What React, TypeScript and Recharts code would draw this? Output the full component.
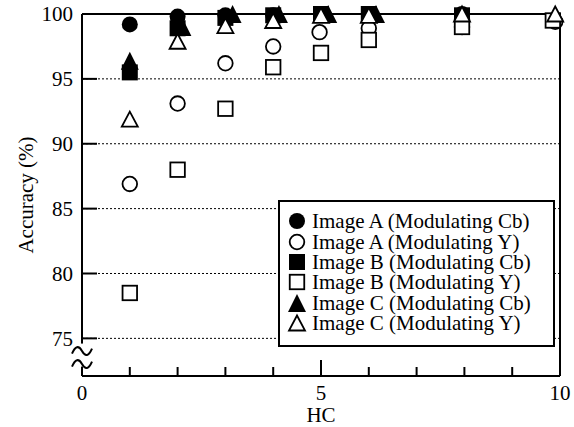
import {
    ScatterChart,
    Scatter,
    XAxis,
    YAxis,
    CartesianGrid,
    ReferenceLine,
    ReferenceDot,
    Legend,
} from 'recharts';

const FONT = '"Liberation Serif", "Times New Roman", serif';

const xTicks = [0, 1, 2, 3, 4, 5, 6, 7, 8, 9, 10];
const xLabelTicks = [0, 5, 10];
const yTicks = [75, 80, 85, 90, 95, 100];

// values
const imageACbHC = [1, 2, 3, 4, 5, 6, 7.95];
const imageACb = [99.2, 99.8, 99.9, 99.9, 100, 100, 100];
const imageAYHC = [1, 2, 3, 4, 4.97, 6, 7.95, 9.9];
const imageAY = [86.9, 93.1, 96.2, 97.5, 98.6, 98.9, 99.0, 99.4];
const imageBCbHC = [1, 2, 3, 4, 5, 6, 7.95];
const imageBCb = [95.5, 98.9, 99.7, 99.9, 100, 100, 99.9];
const imageBYHC = [1, 2, 3, 4, 5, 6, 7.95, 9.85];
const imageBY = [78.5, 88.0, 92.7, 95.9, 97.0, 98.0, 99.0, 99.5];
const imageCCbHC = [1, 2.1, 3.15, 4.12, 5.15, 6.15];
const imageCCb = [96.4, 99.0, 100, 100, 100, 100];
const imageCYHC = [1, 2, 3, 4, 5, 6, 7.95, 9.9];
const imageCY = [91.9, 97.9, 99.1, 99.5, 99.9, 99.9, 100, 100];

const toPoints = (xs: number[], ys: number[]) => xs.map((x, i) => ({x, y: ys[i]}));

type Kind = 'circle' | 'square' | 'triangle';

function Marker({cx, cy, kind, filled}: {cx: number; cy: number; kind: Kind; filled: boolean}) {
    const fill = filled ? '#000' : '#fff';
    const sw = filled ? 0 : 1.8;
    if (kind === 'circle') {
        return <circle cx={cx} cy={cy} r={filled ? 8 : 7.3} fill={fill} stroke="#000" strokeWidth={sw} />;
    }
    if (kind === 'square') {
        const s = filled ? 16 : 14.5;
        return <rect x={cx - s / 2} y={cy - s / 2} width={s} height={s} fill={fill} stroke="#000" strokeWidth={sw} />;
    }
    const w = filled ? 18 : 16;
    const h = filled ? 18 : 15;
    return (
        <path
            d={`M${cx},${cy - h / 2} L${cx + w / 2},${cy + h / 2} L${cx - w / 2},${cy + h / 2} Z`}
            fill={fill}
            stroke="#000"
            strokeWidth={sw}
            strokeLinejoin="miter"
        />
    );
}

const series = [
    {name: 'Image A (Modulating Cb)', kind: 'circle' as Kind, filled: true, data: toPoints(imageACbHC, imageACb)},
    {name: 'Image A (Modulating Y)', kind: 'circle' as Kind, filled: false, data: toPoints(imageAYHC, imageAY)},
    {name: 'Image B (Modulating Cb)', kind: 'square' as Kind, filled: true, data: toPoints(imageBCbHC, imageBCb)},
    {name: 'Image B (Modulating Y)', kind: 'square' as Kind, filled: false, data: toPoints(imageBYHC, imageBY)},
    {name: 'Image C (Modulating Cb)', kind: 'triangle' as Kind, filled: true, data: toPoints(imageCCbHC, imageCCb)},
    {name: 'Image C (Modulating Y)', kind: 'triangle' as Kind, filled: false, data: toPoints(imageCYHC, imageCY)},
];

function XTick(props: any) {
    const {x, y, payload} = props;
    const v = payload.value;
    const len = v === 5 ? 16 : 9;
    return (
        <g>
            <line x1={x} x2={x} y1={y - 9} y2={y - 9 - len} stroke="#000" strokeWidth={2} />
            {xLabelTicks.includes(v) && (
                <text x={x} y={y} dy="0.71em" textAnchor="middle" fill="#000" fontSize={21} fontFamily={FONT}>
                    {v}
                </text>
            )}
        </g>
    );
}

function YTick(props: any) {
    const {x, y, payload} = props;
    return (
        <g>
            <line x1={x + 9} x2={x + 24} y1={y} y2={y} stroke="#000" strokeWidth={2} />
            <text x={x} y={y} dy="0.355em" textAnchor="end" fill="#000" fontSize={21} fontFamily={FONT}>
                {payload.value}
            </text>
        </g>
    );
}

// the "≈" break on the y axis
function AxisBreak(props: any) {
    const {cx, cy} = props;
    const wave = (y0: number) => `M${cx - 10},${y0 + 2.5} Q${cx - 5},${y0 - 9} ${cx},${y0} T${cx + 10},${y0 - 2.5}`;
    return (
        <g>
            <rect x={cx - 3} y={cy - 14} width={6} height={23} fill="#fff" />
            <path d={wave(cy - 6.5)} fill="none" stroke="#000" strokeWidth={2} />
            <path d={wave(cy + 6.5)} fill="none" stroke="#000" strokeWidth={2} />
        </g>
    );
}

function LegendBox() {
    return (
        <div
            style={{
                boxSizing: 'border-box',
                width: 277,
                height: 147,
                border: '2px solid #000',
                background: '#fff',
                padding: '9px 0 0 7px',
                fontFamily: FONT,
                fontSize: 21,
                color: '#000',
            }}
        >
            {series.map((s) => (
                <div key={s.name} style={{display: 'flex', alignItems: 'center', height: 20.4, whiteSpace: 'nowrap'}}>
                    <svg width={20} height={20} style={{marginRight: 5}}>
                        <Marker cx={10} cy={10} kind={s.kind} filled={s.filled} />
                    </svg>
                    <span style={{lineHeight: '20px'}}>{s.name}</span>
                </div>
            ))}
        </div>
    );
}

export default function App() {
    return (
        <div style={{position: 'absolute', left: 0, top: 0, background: '#fff'}}>
            <ScatterChart
                width={574}
                height={427}
                margin={{top: 14, right: 14, bottom: 0, left: 0}}
                style={{fontFamily: FONT}}
            >
                <CartesianGrid vertical={false} stroke="#000" strokeWidth={1} strokeDasharray="2 2" />
                <ReferenceLine y={100} stroke="#000" strokeWidth={2} />
                <ReferenceLine x={10} stroke="#000" strokeWidth={2} />
                <XAxis
                    type="number"
                    dataKey="x"
                    domain={[0, 10]}
                    ticks={xTicks}
                    interval={0}
                    height={51}
                    axisLine={{stroke: '#000', strokeWidth: 2}}
                    tickLine={false}
                    tickSize={0}
                    tickMargin={9}
                    tick={<XTick />}
                    label={{value: 'HC', position: 'insideBottom', offset: 5, fill: '#000', fontSize: 21, fontFamily: FONT}}
                />
                <YAxis
                    type="number"
                    dataKey="y"
                    domain={[72.1, 100]}
                    ticks={yTicks}
                    interval={0}
                    width={82}
                    axisLine={{stroke: '#000', strokeWidth: 2}}
                    tickLine={false}
                    tickSize={0}
                    tickMargin={9}
                    tick={<YTick />}
                    label={{
                        value: 'Accuracy (%)',
                        angle: -90,
                        position: 'insideLeft',
                        offset: 26,
                        fill: '#000',
                        fontSize: 21,
                        fontFamily: FONT,
                        style: {textAnchor: 'middle'},
                    }}
                />
                <ReferenceDot x={0} y={73.52} ifOverflow="visible" shape={<AxisBreak />} />
                <Legend
                    layout="vertical"
                    align="center"
                    verticalAlign="middle"
                    wrapperStyle={{left: 278, top: 200, width: 277, height: 147}}
                    content={<LegendBox />}
                />
                {series.map((s) => (
                    <Scatter
                        key={s.name}
                        name={s.name}
                        data={s.data}
                        fill="#000"
                        isAnimationActive={false}
                        shape={(p: any) => <Marker cx={p.cx} cy={p.cy} kind={s.kind} filled={s.filled} />}
                    />
                ))}
            </ScatterChart>
        </div>
    );
}
